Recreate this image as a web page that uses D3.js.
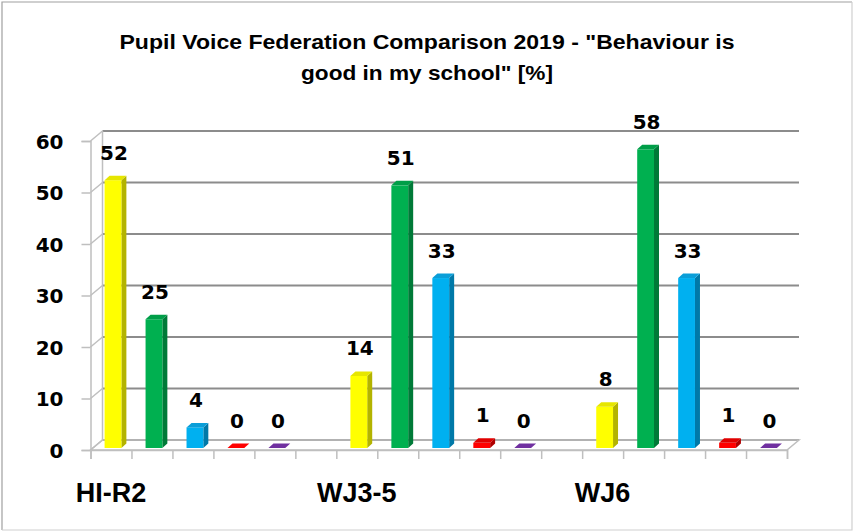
<!DOCTYPE html>
<html>
<head>
<meta charset="utf-8">
<script src="https://cdn.jsdelivr.net/npm/d3@7"></script>
<style>
  body { margin: 0; background: #fff; }
  svg { display: block; }
  .title { font-family: "Liberation Sans", Arial, sans-serif; font-weight: bold; font-size: 21px; fill: #000; }
  .ylab { font-family: "DejaVu Sans", Verdana, sans-serif; font-weight: bold; font-size: 20px; fill: #000; }
  .vlab { font-family: "DejaVu Sans", Verdana, sans-serif; font-weight: bold; font-size: 20px; fill: #000; }
  .xlab { font-family: "Liberation Sans", Arial, sans-serif; font-weight: bold; font-size: 27px; fill: #000; }
</style>
</head>
<body>
<svg id="chart" width="853" height="532"></svg>
<script>
// data
var groups = ["HI-R2", "WJ3-5", "WJ6"];
var seriesColors = ["#FFFF00", "#00B050", "#00B0F0", "#FF0000", "#7030A0"];
var sideColors   = ["#B3B300", "#007A38", "#0079A8", "#B00000", "#4A1F6B"];
var topColors    = ["#E6E600", "#009E48", "#0A9ED8", "#E00000", "#5E2888"];
var hiR2 = [52, 25, 4, 0, 0];
var wj35 = [14, 51, 33, 1, 0];
var wj6  = [8, 58, 33, 1, 0];
var yTicks = [0, 10, 20, 30, 40, 50, 60];
var titleLines = ["Pupil Voice Federation Comparison 2019 - \"Behaviour is", "good in my school\" [%]"];

var values = [hiR2, wj35, wj6];
var slotsPerGroup = 6;   // 5 bars + 1 empty slot
var nSlots = groups.length * slotsPerGroup - 1;

var dataset = [];
values.forEach(function(arr, g){
	arr.forEach(function(v, s){
		dataset.push({group: groups[g], series: s, slot: g * slotsPerGroup + s, value: v});
	});
});

var svg = d3.select("#chart");

// frame
svg.append("path").attr("d", "M2,530 L2,2 L852,2").attr("fill", "none").attr("stroke", "#a0a0a0").attr("stroke-width", 1.2);
svg.append("path").attr("d", "M852,2 L852,530 L2,530").attr("fill", "none").attr("stroke", "#d0d0d0").attr("stroke-width", 1.2);

// title
svg.selectAll("text.title")
	.data(titleLines)
	.enter().append("text")
	.attr("class", "title")
	.attr("x", 427)
	.attr("y", function(d, i){ return i == 0 ? 48.5 : 79.5; })
	.attr("text-anchor", "middle")
	.attr("textLength", function(d, i){ return i == 0 ? 615 : 252; })
	.attr("lengthAdjust", "spacingAndGlyphs")
	.text(function(d){ return d; });

var x0 = 90.5, x1 = 787;
var depthX = 12, depthY = -10;    // back wall offset
var xLin = d3.scaleLinear().domain([0, nSlots]).range([x0, x1]);
var xBand = d3.scaleBand().domain(d3.range(nSlots)).range([x0, x1]).paddingInner(0).paddingOuter(0);
var yScale = d3.scaleLinear().domain([0, 60]).range([450, 141]);

var g = svg.append("g");

// back wall gridlines
g.selectAll("line.grid")
	.data(yTicks)
	.enter().append("line")
	.attr("x1", x0 + depthX).attr("x2", x1 + depthX)
	.attr("y1", function(d){ return yScale(d) + depthY; })
	.attr("y2", function(d){ return yScale(d) + depthY; })
	.attr("stroke", "#8c8c8c").attr("stroke-width", 2);

// back wall left edge
g.append("line")
	.attr("x1", x0 + depthX).attr("x2", x0 + depthX)
	.attr("y1", yScale(0) + depthY).attr("y2", yScale(60) + depthY)
	.attr("stroke", "#bfbfbf").attr("stroke-width", 1.5);

// side wall diagonals
g.selectAll("line.diag")
	.data(yTicks)
	.enter().append("line")
	.attr("x1", x0).attr("x2", x0 + depthX)
	.attr("y1", function(d){ return yScale(d); })
	.attr("y2", function(d){ return yScale(d) + depthY; })
	.attr("stroke", "#bfbfbf").attr("stroke-width", 1.5);

// floor
g.append("path")
	.attr("d", "M" + x0 + "," + yScale(0) + " L" + x1 + "," + yScale(0) +
		" L" + (x1 + depthX) + "," + (yScale(0) + depthY) + " L" + (x0 + depthX) + "," + (yScale(0) + depthY) + " Z")
	.attr("fill", "none").attr("stroke", "#bfbfbf").attr("stroke-width", 1.5);

// bars
var bw = xBand.bandwidth() * 0.41;
var shiftX = 2, shiftY = -2;       // bar front plane behind the axis
var bdX = 5, bdY = -4.5;           // bar depth

var bars = g.selectAll("g.bar")
	.data(dataset)
	.enter().append("g")
	.attr("class", "bar");

function bx(d){ return xBand(d.slot) + xBand.bandwidth() / 2 - bw / 2 + shiftX; }
function byTop(d){ return yScale(d.value) + shiftY; }
function byBot(d){ return yScale(0) + shiftY; }

bars.filter(function(d){ return d.value > 0; })
	.append("path")
	.attr("d", function(d){
		var x = bx(d) + bw, t = byTop(d), b = byBot(d);
		return "M" + x + "," + t + " L" + (x + bdX) + "," + (t + bdY) + " L" + (x + bdX) + "," + (b + bdY) + " L" + x + "," + b + " Z";
	})
	.attr("fill", function(d){ return sideColors[d.series]; });

bars.filter(function(d){ return d.value > 0; })
	.append("rect")
	.attr("x", bx)
	.attr("y", byTop)
	.attr("width", bw)
	.attr("height", function(d){ return byBot(d) - byTop(d); })
	.attr("fill", function(d){ return seriesColors[d.series]; });

bars.append("path")
	.attr("d", function(d){
		var x = bx(d), t = byTop(d);
		return "M" + x + "," + t + " L" + (x + bdX) + "," + (t + bdY) + " L" + (x + bw + bdX) + "," + (t + bdY) + " L" + (x + bw) + "," + t + " Z";
	})
	.attr("fill", function(d){ return d.value > 0 ? topColors[d.series] : seriesColors[d.series]; });

// value labels
g.selectAll("text.vlab")
	.data(dataset)
	.enter().append("text")
	.attr("class", "vlab")
	.attr("x", function(d){ return bx(d) + bw / 2 + 1; })
	.attr("y", function(d){ return byTop(d) + bdY - 16; })
	.attr("text-anchor", "middle")
	.text(function(d){ return d.value; });

// y axis (front)
var yAxis = g.append("g")
	.attr("transform", "translate(" + x0 + ",0)")
	.call(d3.axisLeft(yScale).tickValues(yTicks).tickSize(9).tickPadding(18).tickFormat(d3.format("d")));
yAxis.select(".domain").attr("stroke", "#bfbfbf").attr("stroke-width", 1.5);
yAxis.selectAll(".tick line").attr("stroke", "#bfbfbf").attr("stroke-width", 1.5);
yAxis.selectAll(".tick text").attr("class", "ylab").attr("fill", "#000").attr("dy", "0.36em")
	.attr("font-family", null).attr("font-size", null);
yAxis.attr("font-family", null).attr("font-size", null);

// x axis (front)
var xAxis = g.append("g")
	.attr("transform", "translate(0," + yScale(0) + ")")
	.call(d3.axisBottom(xLin).tickValues(d3.range(nSlots + 1)).tickSize(9).tickFormat(""));
xAxis.select(".domain").attr("stroke", "#bfbfbf").attr("stroke-width", 1.5);
xAxis.selectAll(".tick line").attr("stroke", "#bfbfbf").attr("stroke-width", 1.5);

// category labels
g.selectAll("text.xlab")
	.data(groups)
	.enter().append("text")
	.attr("class", "xlab")
	.attr("x", function(d, i){ return xBand(i * slotsPerGroup) + xBand.bandwidth() / 2; })
	.attr("y", 502)
	.attr("text-anchor", "middle")
	.text(function(d){ return d; });
</script>
</body>
</html>
